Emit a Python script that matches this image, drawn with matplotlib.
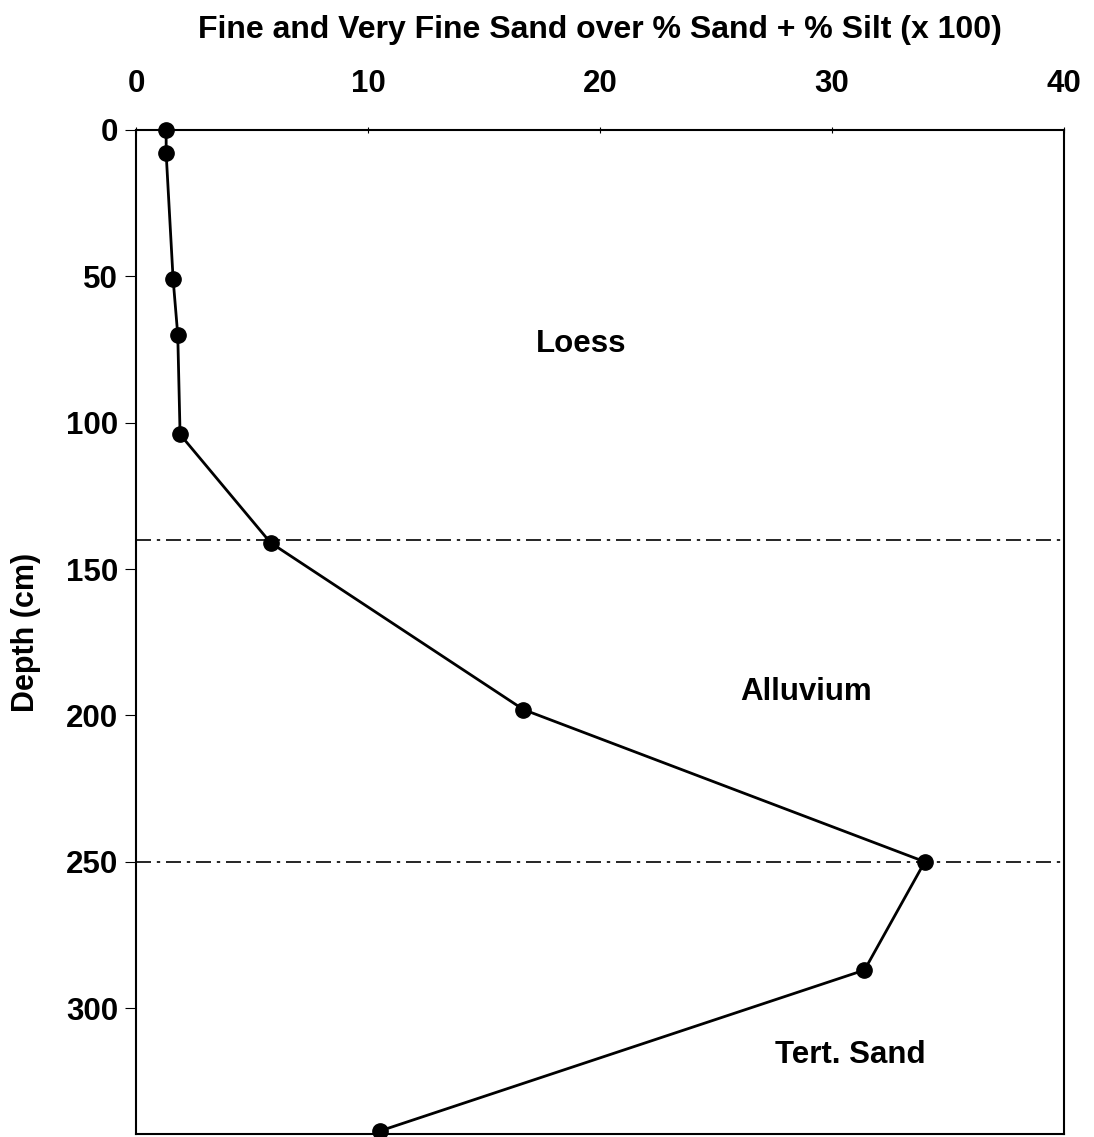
import matplotlib
matplotlib.use("Agg")
import matplotlib.pyplot as plt

plt.rcParams['font.family'] = ['Liberation Sans', 'DejaVu Sans']
plt.rcParams['font.weight'] = 'bold'

# Data
ratio = [1.3, 1.3, 1.6, 1.8, 1.9, 5.8, 16.7, 34.0, 31.4, 10.5]
depth = [0, 8, 51, 70, 104, 141, 198, 250, 287, 342]
boundaries = [140, 250]
layer_names = ["Loess", "Alluvium", "Tert. Sand"]
layer_x = [19.2, 28.9, 30.8]
layer_y = [73, 192, 316]
xticks = [0, 10, 20, 30, 40]
yticks = [0, 50, 100, 150, 200, 250, 300]

fig = plt.figure(figsize=(10.94, 11.37), dpi=100)
ax = fig.add_axes([136/1094, 1 - 1134/1137, (1064-136)/1094, (1134-130)/1137])

for b in boundaries:
    ax.axhline(b, color='black', lw=1.2, ls=(0, (9, 3.5, 2, 3.5)), zorder=1)

ax.plot(ratio, depth, color='black', lw=2.0, marker='o', markersize=11, zorder=3, clip_on=False)

for name, x, y in zip(layer_names, layer_x, layer_y):
    ax.text(x, y, name, ha='center', va='center', fontsize=22.5, fontweight='bold')

ax.set_xlim(0, 40)
ax.set_ylim(343, 0)
ax.set_xticks(xticks)
ax.set_yticks(yticks)
ax.xaxis.tick_top()
ax.xaxis.set_label_position('top')
ax.tick_params(axis='x', direction='inout', length=5, width=0.8, labelsize=22.5, pad=20)
ax.tick_params(axis='y', direction='out', length=8, width=0.8, labelsize=22.5, pad=5)
for lab in ax.get_xticklabels() + ax.get_yticklabels():
    lab.set_fontweight('bold')
ax.set_xlabel("Fine and Very Fine Sand over % Sand + % Silt (x 100)", fontsize=23,
              fontweight='bold', labelpad=22)
ax.set_ylabel("Depth (cm)", fontsize=22, fontweight='bold', labelpad=18)
for s in ax.spines.values():
    s.set_linewidth(1.5)

fig.savefig("out.png", dpi=100)
